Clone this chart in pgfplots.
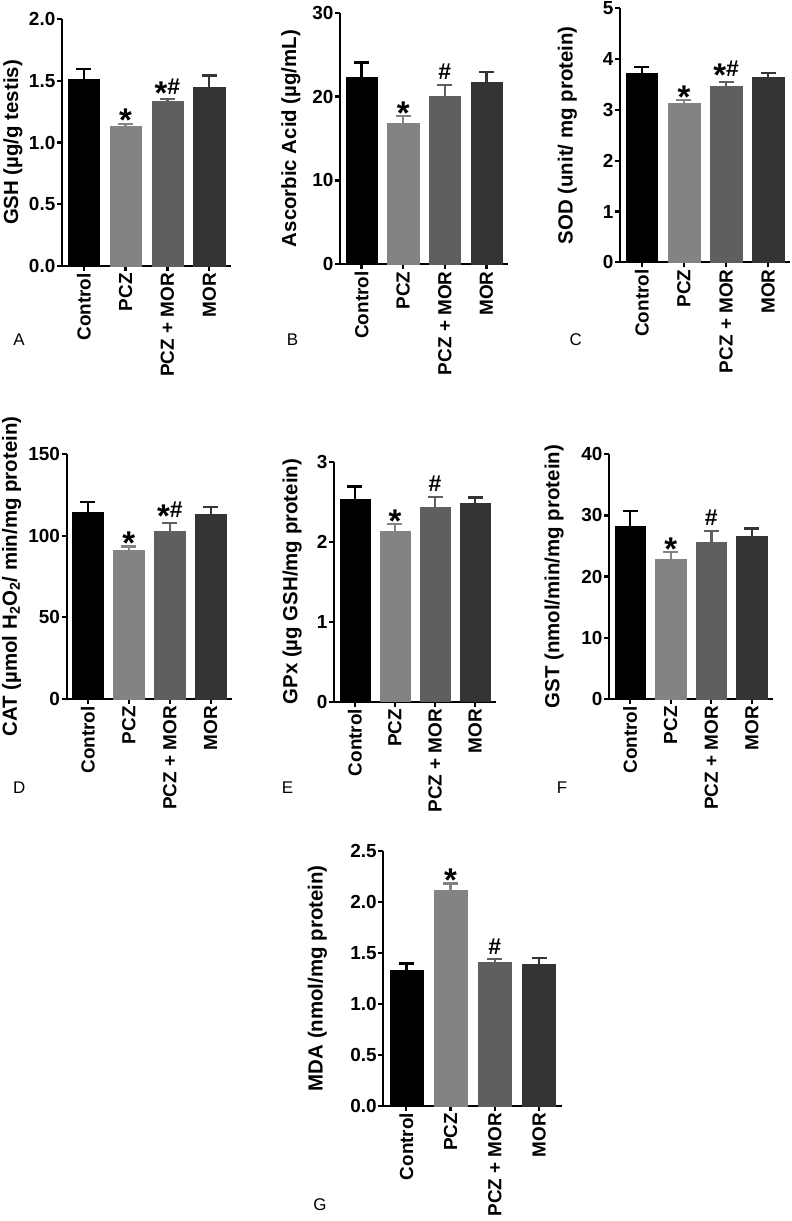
\documentclass[border=0pt]{standalone}
\usepackage{pgfplots}
\pgfplotsset{compat=1.18}
\usepackage{fontspec}
\setmainfont{Liberation Sans}
\definecolor{c0}{HTML}{000000}
\definecolor{c1}{HTML}{838383}
\definecolor{c2}{HTML}{5F5F5F}
\definecolor{c3}{HTML}{343434}
\newcommand\tickfont{\fontsize{19}{22}\selectfont\bfseries}
\newcommand\labfont{\fontsize{20.5}{24}\selectfont\bfseries}
\newcommand\letfont{\fontsize{17}{19}\selectfont}
\newcommand\St{\raisebox{-13bp}{\fontsize{33}{33}\selectfont\bfseries *}}
\newcommand\Hs{{\fontsize{23}{23}\selectfont\bfseries \#}}
\newcommand\SH{\raisebox{-10bp}{\fontsize{33}{33}\selectfont\bfseries *}\Hs}
\pgfplotsset{
  panel/.style={
    scale only axis, anchor=south west,
    xmin=-0.52, xmax=3.52, ymin=0,
    axis x line*=bottom, axis y line*=left,
    axis line style={line width=2.3bp},
    every tick/.style={line width=2.3bp, black},
    major tick length=5bp,
    tick align=outside,
    xtick={0,1,2,3}, xticklabels={Control,PCZ,PCZ + MOR,MOR},
    xticklabel style={rotate=90, anchor=east, font=\tickfont, inner sep=2bp},
    yticklabel style={font=\tickfont, inner sep=1.5bp},
    /pgf/number format/assume math mode=true,
    clip=false,
  },
  ylabpos/.style={every axis y label/.style={at={(axis description cs:#1,0.5)}, rotate=90, anchor=center, font=\labfont}},
  barc/.style={ybar, bar shift=0pt, bar width=0.75, fill=#1, draw=#1, line width=0.4bp,
    error bars/.cd, y dir=plus, y explicit,
    error bar style={line width=2.4bp, draw=#1},
    error mark options={rotate=90, mark size=7.5bp, line width=2.4bp, draw=#1}},
  sig/.style={draw=none, mark=none, nodes near coords, point meta=explicit symbolic,
    every node near coord/.style={anchor=base, yshift=5bp, inner sep=0pt}},
}
\begin{document}
\begin{tikzpicture}
\useasboundingbox (0,0) rectangle (792bp,1221bp);
% A
\begin{axis}[panel, at={(62bp,955bp)}, width=169bp, height=247bp, ymax=2,
  ytick={0,0.5,1,1.5,2}, yticklabel style={/pgf/number format/.cd, fixed, zerofill, precision=1},
  ylabel={GSH (µg/g testis)}, ylabpos=-0.29]
\addplot[barc=c0] coordinates {(0,1.51) +- (0,0.085)};
\addplot[barc=c1] coordinates {(1,1.13) +- (0,0.022)};
\addplot[barc=c2] coordinates {(2,1.338) +- (0,0.014)};
\addplot[barc=c3] coordinates {(3,1.444) +- (0,0.10)};
\addplot[sig] coordinates {(1,1.152) [\St] (2,1.352) [\SH]};
\end{axis}
% B
\begin{axis}[panel, at={(340bp,956.7bp)}, width=168bp, height=251.6bp, ymax=30,
  ytick={0,10,20,30}, ylabel={Ascorbic Acid (µg/mL)}, ylabpos=-0.292]
\addplot[barc=c0] coordinates {(0,22.25) +- (0,1.83)};
\addplot[barc=c1] coordinates {(1,16.81) +- (0,0.87)};
\addplot[barc=c2] coordinates {(2,20.07) +- (0,1.31)};
\addplot[barc=c3] coordinates {(3,21.74) +- (0,1.16)};
\addplot[sig] coordinates {(1,17.68) [\St] (2,21.38) [\Hs]};
\end{axis}
% C
\begin{axis}[panel, at={(620bp,958.7bp)}, width=170bp, height=254bp, ymax=5,
  ytick={0,1,2,3,4,5}, ylabel={SOD (unit/ mg protein)}, ylabpos=-0.31]
\addplot[barc=c0] coordinates {(0,3.73) +- (0,0.12)};
\addplot[barc=c1] coordinates {(1,3.13) +- (0,0.06)};
\addplot[barc=c2] coordinates {(2,3.46) +- (0,0.09)};
\addplot[barc=c3] coordinates {(3,3.65) +- (0,0.08)};
\addplot[sig] coordinates {(1,3.19) [\St] (2,3.55) [\SH]};
\end{axis}
% D
\begin{axis}[panel, at={(66.7bp,522bp)}, width=165.3bp, height=245bp, ymax=150,
  ytick={0,50,100,150}, ylabel={CAT (µmol H\textsubscript{2}O\textsubscript{2}/ min/mg protein)}, ylabpos=-0.333]
\addplot[barc=c0] coordinates {(0,114.5) +- (0,6.1)};
\addplot[barc=c1] coordinates {(1,90.8) +- (0,2.5)};
\addplot[barc=c2] coordinates {(2,103.0) +- (0,4.9)};
\addplot[barc=c3] coordinates {(3,113.3) +- (0,4.1)};
\addplot[sig] coordinates {(1,93.3) [\St] (2,107.9) [\SH]};
\end{axis}
% E
\begin{axis}[panel, at={(334bp,519.3bp)}, width=162bp, height=240bp, ymax=3,
  ytick={0,1,2,3}, ylabel={GPx (µg GSH/mg protein)}, ylabpos=-0.259]
\addplot[barc=c0] coordinates {(0,2.53) +- (0,0.16)};
\addplot[barc=c1] coordinates {(1,2.125) +- (0,0.095)};
\addplot[barc=c2] coordinates {(2,2.43) +- (0,0.13)};
\addplot[barc=c3] coordinates {(3,2.48) +- (0,0.07)};
\addplot[sig] coordinates {(1,2.22) [\St] (2,2.56) [\Hs]};
\end{axis}
% F
\begin{axis}[panel, at={(609bp,522bp)}, width=164bp, height=244.7bp, ymax=40,
  ytick={0,10,20,30,40}, ylabel={GST (nmol/min/mg protein)}, ylabpos=-0.335]
\addplot[barc=c0] coordinates {(0,28.3) +- (0,2.4)};
\addplot[barc=c1] coordinates {(1,22.9) +- (0,1.1)};
\addplot[barc=c2] coordinates {(2,25.7) +- (0,1.8)};
\addplot[barc=c3] coordinates {(3,26.6) +- (0,1.3)};
\addplot[sig] coordinates {(1,24.0) [\St] (2,27.5) [\Hs]};
\end{axis}
% G
\begin{axis}[panel, at={(383.3bp,115.3bp)}, width=178.7bp, height=255bp, ymax=2.5,
  ytick={0,0.5,1,1.5,2,2.5}, yticklabel style={/pgf/number format/.cd, fixed, zerofill, precision=1},
  ylabel={MDA (nmol/mg protein)}, ylabpos=-0.369]
\addplot[barc=c0] coordinates {(0,1.33) +- (0,0.066)};
\addplot[barc=c1] coordinates {(1,2.115) +- (0,0.065)};
\addplot[barc=c2] coordinates {(2,1.41) +- (0,0.028)};
\addplot[barc=c3] coordinates {(3,1.39) +- (0,0.06)};
\addplot[sig] coordinates {(1,2.18) [\St] (2,1.438) [\Hs]};
\end{axis}
\node[font=\letfont] at (19bp,881bp) {A};
\node[font=\letfont] at (292.5bp,881bp) {B};
\node[font=\letfont] at (575.8bp,881bp) {C};
\node[font=\letfont] at (19.2bp,433bp) {D};
\node[font=\letfont] at (287.5bp,433bp) {E};
\node[font=\letfont] at (562bp,433bp) {F};
\node[font=\letfont] at (320bp,16bp) {G};
\end{tikzpicture}
\end{document}
